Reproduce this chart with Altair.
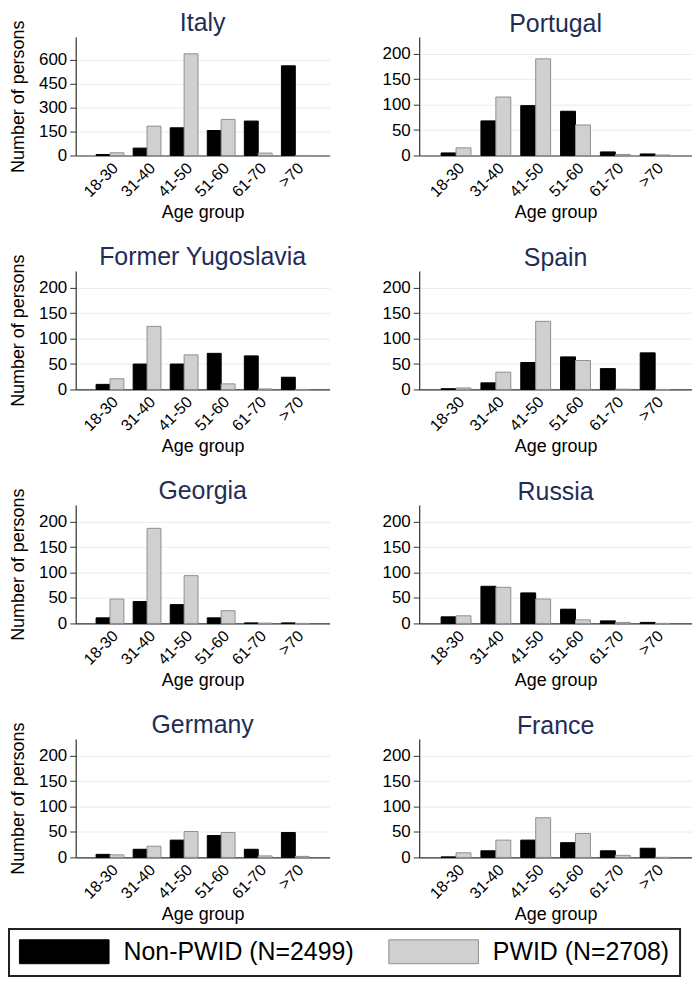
import altair as alt
import pandas as pd

ages = ["18-30", "31-40", "41-50", "51-60", "61-70", ">70"]
groups = ["Non-PWID (N=2499)", "PWID (N=2708)"]

countries = ["Italy", "Portugal", "Former Yugoslavia", "Spain",
             "Georgia", "Russia", "Germany", "France"]

non_pwid = {
    "Italy": [6, 46, 173, 156, 215, 560],
    "Portugal": [5, 68, 98, 87, 7, 3],
    "Former Yugoslavia": [10, 50, 50, 71, 66, 24],
    "Spain": [1.5, 13, 53, 64, 41, 72],
    "Georgia": [11, 43, 37, 11, 1, 1],
    "Russia": [13, 73, 60, 28, 5, 2],
    "Germany": [6, 16, 34, 43, 16, 49],
    "France": [1, 13, 34, 29, 13, 18],
}
pwid = {
    "Italy": [17, 183, 635, 225, 15, 0],
    "Portugal": [15, 115, 190, 60, 2, 1],
    "Former Yugoslavia": [21, 124, 68, 11, 1, 0],
    "Spain": [3, 34, 134, 57, 0.5, 0],
    "Georgia": [48, 187, 94, 25, 0.5, 0],
    "Russia": [15, 71, 48, 7, 2, 0],
    "Germany": [5, 22, 51, 49, 3, 2],
    "France": [9, 34, 78, 47, 4, 0],
}

italy_ticks = [0, 150, 300, 450, 600]
other_ticks = [0, 50, 100, 150, 200]
italy_max = 740
other_max = 233

FONT = "Liberation Sans"


def panel(country, left):
    df = pd.DataFrame({
        "age": ages * 2,
        "group": [groups[0]] * len(ages) + [groups[1]] * len(ages),
        "n": non_pwid[country] + pwid[country],
    })
    italy = country == "Italy"
    domain = [0, italy_max if italy else other_max]
    ticks = italy_ticks if italy else other_ticks
    return alt.Chart(df, title=alt.TitleParams(
        country, fontSize=25, font=FONT, fontWeight="normal",
        color="#1f2d56", offset=0, anchor="middle", frame="group",
        dy=16 if left else 0)
    ).mark_bar(strokeWidth=1).encode(
        x=alt.X("age:N", sort=ages, title="Age group",
                scale=alt.Scale(paddingInner=0.25, paddingOuter=0.55),
                axis=alt.Axis(labelAngle=-45, ticks=False, grid=False,
                              labelFontSize=16, titleFontSize=18,
                              labelPadding=4, titlePadding=4)),
        xOffset=alt.XOffset("group:N", sort=groups,
                            scale=alt.Scale(paddingInner=0, paddingOuter=0)),
        y=alt.Y("n:Q", scale=alt.Scale(domain=domain, nice=False, zero=True),
                axis=alt.Axis(values=ticks, grid=True,
                              title="Number of persons" if left else None,
                              labelFontSize=17, titleFontSize=18,
                              tickSize=6, labelPadding=3, titlePadding=11)),
        fill=alt.Fill("group:N",
                      scale=alt.Scale(domain=groups, range=["#000000", "#d0d0d0"]),
                      legend=alt.Legend(title=None, orient="none",
                                        legendX=-67, legendY=896,
                                        direction="horizontal",
                                        symbolType="M-1,-1H6.5V1H-1Z",
                                        symbolSize=576,
                                        symbolStrokeColor="#8a8a8a",
                                        symbolStrokeWidth=1,
                                        labelFontSize=25, labelFont=FONT,
                                        labelColor="#000",
                                        labelOffset=80, labelLimit=400,
                                        columnPadding=32, padding=10,
                                        strokeColor="#222")),
        stroke=alt.Stroke("group:N",
                          scale=alt.Scale(domain=groups, range=["#000000", "#8f8f8f"]),
                          legend=None),
    ).properties(width=255 if left else 274, height=119)


panels = [panel(c, i % 2 == 0) for i, c in enumerate(countries)]

chart = alt.concat(
    *panels, columns=2, spacing=alt.RowColnumber(row=22, column=52)
).resolve_scale(xOffset="independent").properties(
    padding=0
).configure_axis(
    domainColor="#333", tickColor="#333", labelColor="#000", titleColor="#000",
    labelFont=FONT, titleFont=FONT, titleFontWeight="normal",
    gridColor="#e4ecf0", domainWidth=1.2
).configure_view(stroke=None).configure_legend(strokeWidth=2)

chart.save("out.html", embed_options={"renderer": "svg", "actions": False})
